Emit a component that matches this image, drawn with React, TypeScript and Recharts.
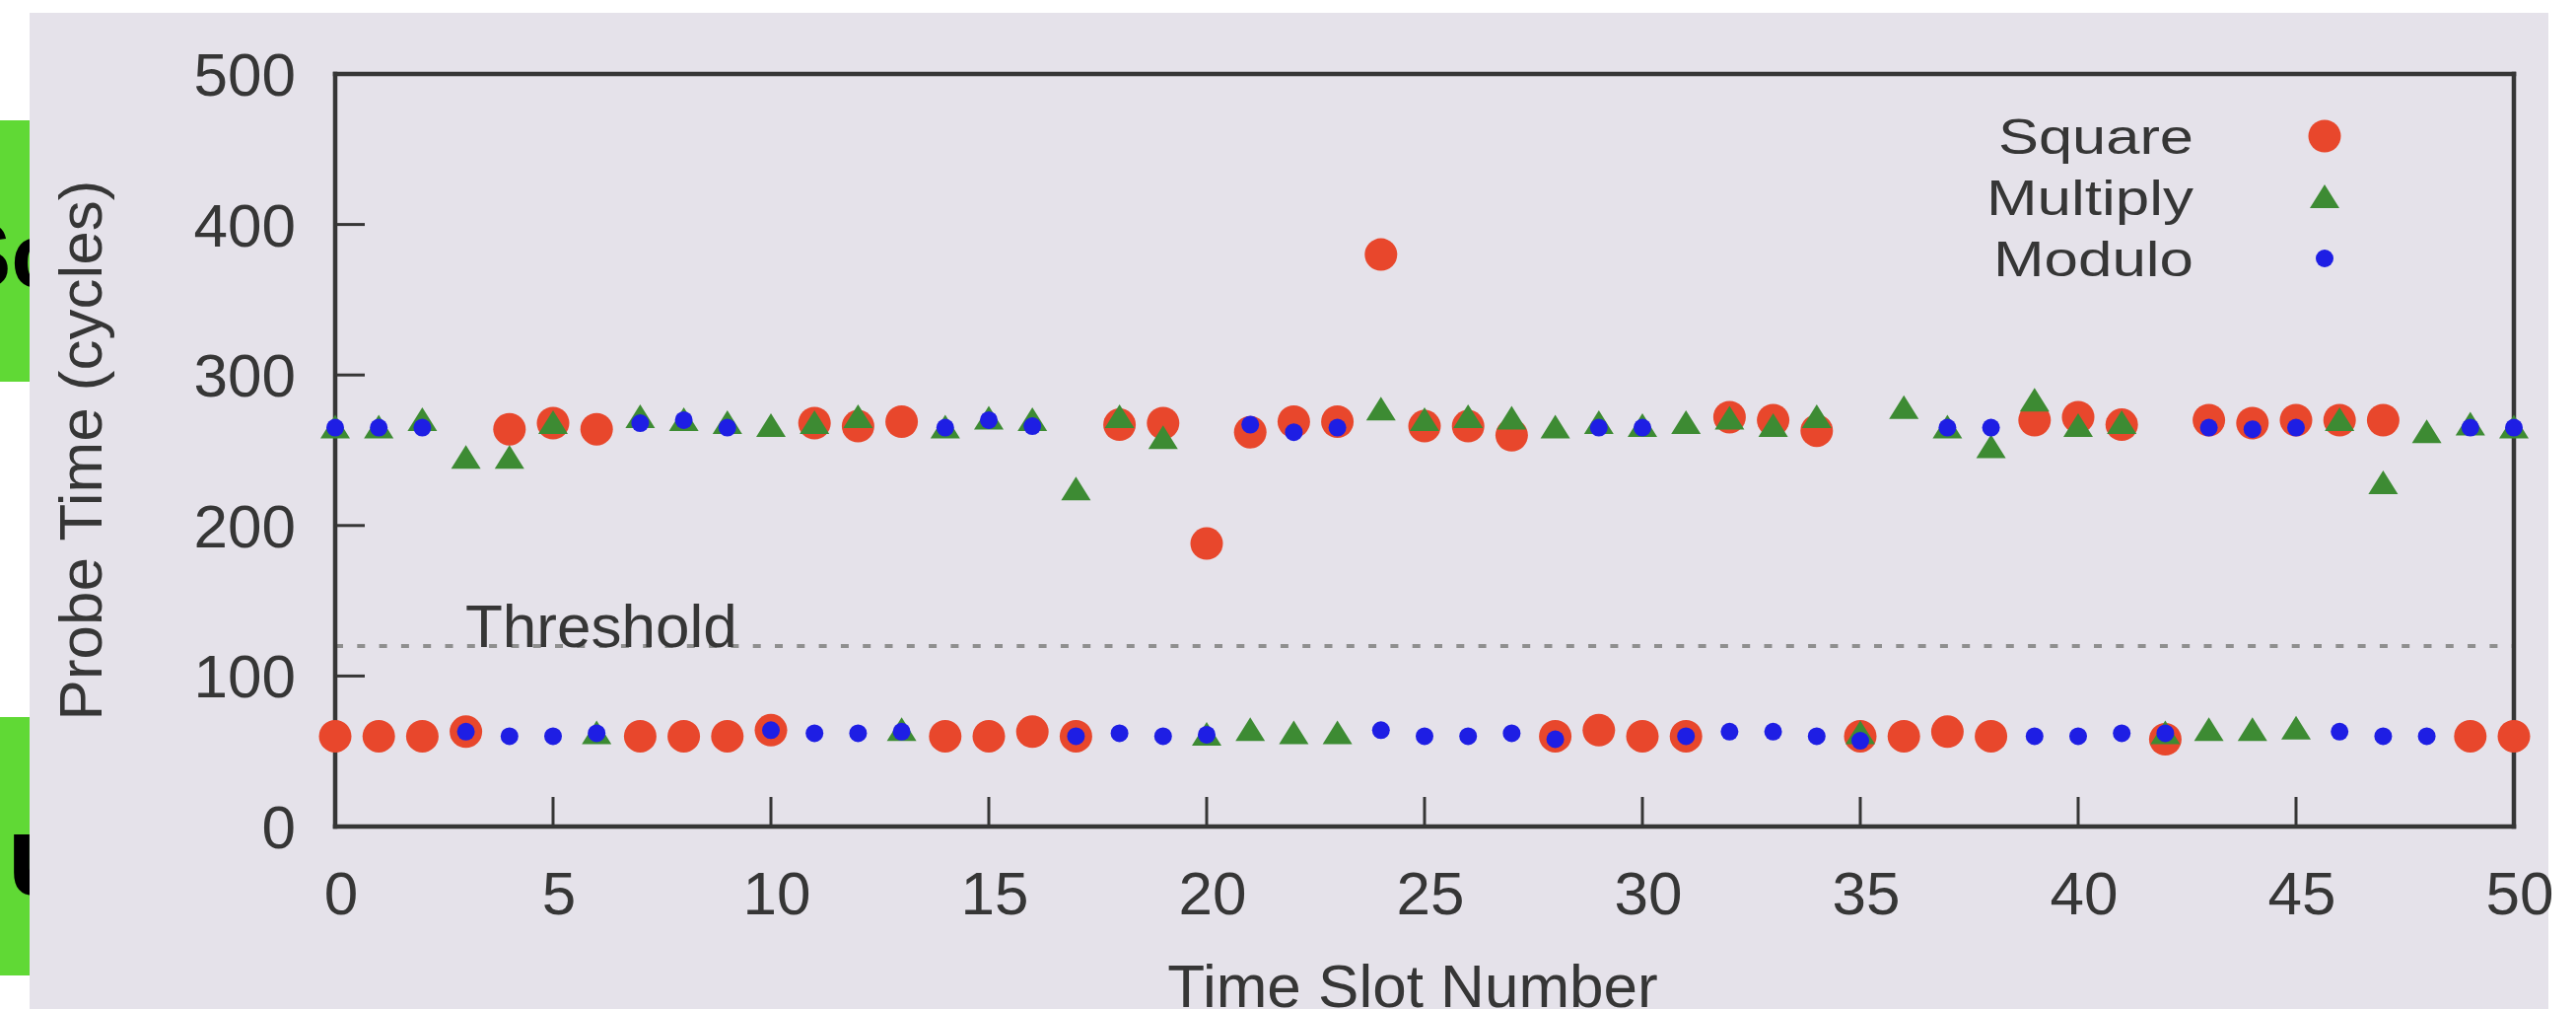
import React from 'react';
import { ScatterChart, Scatter, XAxis, YAxis, ReferenceLine, Legend } from 'recharts';

// time slots and probe times (cycles)
const slots = [
  0, 1, 2, 3, 4, 5, 6, 7, 8, 9, 10, 11, 12, 13, 14, 15, 16, 17, 18, 19, 20, 21, 22, 23, 24, 25,
  26, 27, 28, 29, 30, 31, 32, 33, 34, 35, 36, 37, 38, 39, 40, 41, 42, 43, 44, 45, 46, 47, 48, 49, 50,
];
const squareTimes = [
  60, 60, 60, 63, 264, 268, 264, 60, 60, 60, 64, 268, 266, 269, 60, 60, 63, 60, 267, 268, 188, 262, 269, 269, 380, 266,
  266, 260, 60, 64, 60, 60, 272, 270, 263, 60, 60, 63, 60, 270, 272, 267, 58, 270, 268, 270, 270, 270, null, 60, 60,
];
const multiplyTimes = [
  265, 265, 270, 245, 245, 268, 62, 272, 270, 268, 266, 268, 272, 64, 265, 271, 270, 224, 272, 258, 61, 64, 62, 62, 277, 270,
  272, 271, 265, 268, 266, 268, 271, 266, 272, 62, 278, 265, 252, 283, 266, 268, 62, 64, 64, 65, 270, 228, 262, 267, 265,
];
const moduloTimes = [
  265, 265, 265, 63, 60, 60, 62, 268, 270, 265, 64, 62, 62, 63, 265, 270, 266, 60, 62, 60, 61, 267, 262, 265, 64, 60,
  60, 62, 58, 265, 265, 60, 63, 63, 60, 57, null, 265, 265, 60, 60, 62, 62, 265, 264, 265, 63, 60, 60, 265, 265,
];
const seriesNames = ['Square', 'Multiply', 'Modulo'];
const xTicks = [0, 5, 10, 15, 20, 25, 30, 35, 40, 45, 50];
const yTicks = [0, 100, 200, 300, 400, 500];
const threshold = 120;

const RED = '#e8472c';
const GREEN = '#3d8b33';
const BLUE = '#1e1ee4';
const INK = '#363636';
const FONT = '"Liberation Sans", Arial, sans-serif';

const toPoints = (vals: (number | null)[]) =>
  slots.map((x, i) => ({ x, y: vals[i] })).filter((p) => p.y !== null);

const CircleMark = (p: any) => <circle cx={p.cx} cy={p.cy} r={16.5} fill={RED} />;
const TriangleMark = (p: any) => (
  <polygon points={`${p.cx},${p.cy - 13} ${p.cx + 15},${p.cy + 11} ${p.cx - 15},${p.cy + 11}`} fill={GREEN} />
);
const DotMark = (p: any) => <circle cx={p.cx} cy={p.cy} r={9} fill={BLUE} />;

const BottomTick = ({ x, y, payload }: any) => (
  <g>
    <line x1={x} y1={y} x2={x} y2={y - 30} stroke={INK} strokeWidth={3} />
    <text x={x + 6} y={y + 89} textAnchor="middle" fontSize={62} fill={INK} fontFamily={FONT}>
      {payload.value}
    </text>
  </g>
);
const TopTick = ({ x, y }: any) => <line x1={x} y1={y} x2={x} y2={y + 30} stroke={INK} strokeWidth={3} />;
const LeftTick = ({ x, y, payload }: any) => (
  <g>
    <line x1={x} y1={y} x2={x + 30} y2={y} stroke={INK} strokeWidth={3} />
    <text x={x - 40} y={y + 22} textAnchor="end" fontSize={62} fill={INK} fontFamily={FONT}>
      {payload.value}
    </text>
  </g>
);
const RightTick = ({ x, y }: any) => <line x1={x} y1={y} x2={x - 30} y2={y} stroke={INK} strokeWidth={3} />;

const ThresholdLabel = ({ viewBox }: any) => (
  <text x={viewBox.x + 132} y={viewBox.y + 1} fontSize={62} fill={INK} fontFamily={FONT}>
    Threshold
  </text>
);

const YTitle = ({ viewBox }: any) => {
  const cx = viewBox.x - 139;
  const cy = viewBox.y + viewBox.height / 2;
  return (
    <text x={cx} y={cy + 22} transform={`rotate(-90 ${cx} ${cy})`} textAnchor="middle" fontSize={62} fill={INK} fontFamily={FONT}>
      Probe Time (cycles)
    </text>
  );
};
const XTitle = ({ viewBox }: any) => (
  <text x={viewBox.x + viewBox.width / 2 - 12} y={viewBox.y + 183} textAnchor="middle" fontSize={62} fill={INK} fontFamily={FONT}>
    Time Slot Number
  </text>
);

const legendWidths: Record<string, number> = { Square: 198, Multiply: 210, Modulo: 203 };
const legendMarks: Record<string, (p: any) => React.ReactElement> = {
  Square: CircleMark,
  Multiply: TriangleMark,
  Modulo: DotMark,
};

const LegendBox = ({ payload }: any) => {
  const entries = [...(payload || [])].sort(
    (a: any, b: any) => seriesNames.indexOf(a.value) - seriesNames.indexOf(b.value)
  );
  return (
    <svg width={520} height={200}>
      {entries.map((entry: any, i: number) => {
        const cy = 38 + i * 62;
        const Mark = legendMarks[entry.value];
        return (
          <g key={entry.value}>
            <text
              x={345}
              y={cy + 18}
              textAnchor="end"
              fontSize={50}
              fill={INK}
              fontFamily={FONT}
              textLength={legendWidths[entry.value]}
              lengthAdjust="spacingAndGlyphs"
            >
              {entry.value}
            </text>
            {Mark ? <Mark cx={478} cy={cy} /> : null}
          </g>
        );
      })}
    </svg>
  );
};

const axisLine = { stroke: INK, strokeWidth: 4.5, strokeLinecap: 'square' as const };

export default function App() {
  return (
    <div style={{ position: 'absolute', left: 0, top: 0, width: 2613, height: 1023, background: '#ffffff', overflow: 'hidden' }}>
      <div style={{ position: 'absolute', left: 0, top: 122, width: 30, height: 265, background: '#60d935', overflow: 'hidden' }}>
        <span style={{ position: 'absolute', left: -50, top: 165, fontFamily: FONT, fontWeight: 'bold', fontSize: 92, lineHeight: 1, color: '#000', whiteSpace: 'nowrap', transform: 'translateY(-80%)' }}>
          Sc
        </span>
      </div>
      <div style={{ position: 'absolute', left: 0, top: 727, width: 30, height: 262, background: '#60d935', overflow: 'hidden' }}>
        <span style={{ position: 'absolute', left: -25, top: 175, fontFamily: FONT, fontWeight: 'bold', fontSize: 115, lineHeight: 1, color: '#000', whiteSpace: 'nowrap', transform: 'translateY(-80%)' }}>
          lu
        </span>
      </div>
      <div style={{ position: 'absolute', left: 30, top: 13, width: 2555, height: 1010, background: '#e5e2ea' }} />
      <div style={{ position: 'absolute', left: 0, top: 0 }}>
        <ScatterChart width={2613} height={1023} margin={{ top: 70, right: 58, bottom: 85, left: 220 }}>
          <XAxis
            dataKey="x"
            type="number"
            domain={[0, 50]}
            ticks={xTicks}
            interval={0}
            height={100}
            tickSize={0}
            tickMargin={0}
            tick={<BottomTick />}
            axisLine={axisLine}
            label={<XTitle />}
          />
          <XAxis
            xAxisId="top"
            orientation="top"
            type="number"
            domain={[0, 50]}
            ticks={xTicks}
            interval={0}
            height={5}
            tickSize={0}
            tickMargin={0}
            tick={<TopTick />}
            axisLine={axisLine}
          />
          <YAxis
            dataKey="y"
            type="number"
            domain={[0, 500]}
            ticks={yTicks}
            interval={0}
            width={120}
            tickSize={0}
            tickMargin={0}
            tick={<LeftTick />}
            axisLine={axisLine}
            label={<YTitle />}
          />
          <YAxis
            yAxisId="right"
            orientation="right"
            type="number"
            domain={[0, 500]}
            ticks={yTicks}
            interval={0}
            width={5}
            tickSize={0}
            tickMargin={0}
            tick={<RightTick />}
            axisLine={axisLine}
          />
          <ReferenceLine
            y={threshold}
            stroke="#8f8f8f"
            strokeWidth={4}
            strokeDasharray="8 14.3"
            label={<ThresholdLabel />}
          />
          <Scatter name="Square" data={toPoints(squareTimes)} fill={RED} shape={CircleMark} isAnimationActive={false} />
          <Scatter name="Multiply" data={toPoints(multiplyTimes)} fill={GREEN} shape={TriangleMark} isAnimationActive={false} />
          <Scatter name="Modulo" data={toPoints(moduloTimes)} fill={BLUE} shape={DotMark} isAnimationActive={false} />
          <Legend
            layout="vertical"
            align="center"
            verticalAlign="middle"
            content={<LegendBox />}
            wrapperStyle={{ position: 'absolute', left: 1880, top: 100, width: 520, height: 200 }}
          />
        </ScatterChart>
      </div>
    </div>
  );
}
